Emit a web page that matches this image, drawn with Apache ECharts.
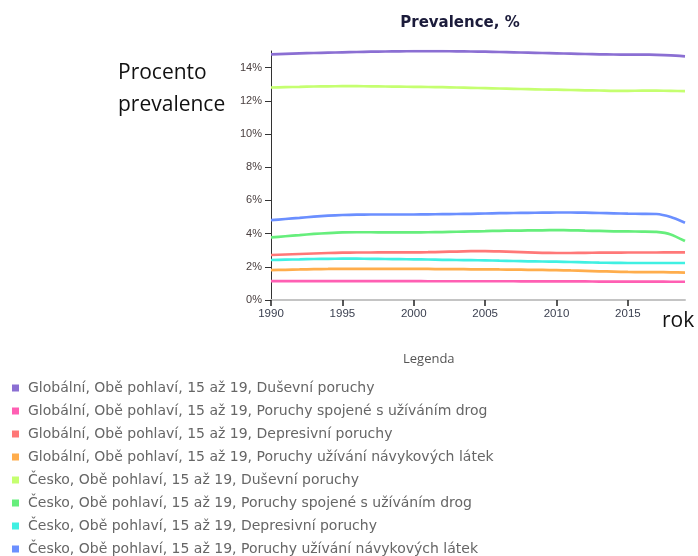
<!DOCTYPE html>
<html><head><meta charset="utf-8">
<script src="https://cdn.jsdelivr.net/npm/echarts@6/dist/echarts.min.js"></script>
<style>html,body{margin:0;padding:0;background:#fff}#c{width:698px;height:556px}</style>
</head><body><div id="c"></div>
<script>
const years = [1990,1991,1992,1993,1994,1995,1996,1997,1998,1999,2000,2001,2002,2003,2004,2005,2006,2007,2008,2009,2010,2011,2012,2013,2014,2015,2016,2017,2018,2019];
const seriesNames = [
  "Globální, Obě pohlaví, 15 až 19, Duševní poruchy",
  "Globální, Obě pohlaví, 15 až 19, Poruchy spojené s užíváním drog",
  "Globální, Obě pohlaví, 15 až 19, Depresivní poruchy",
  "Globální, Obě pohlaví, 15 až 19, Poruchy užívání návykových látek",
  "Česko, Obě pohlaví, 15 až 19, Duševní poruchy",
  "Česko, Obě pohlaví, 15 až 19, Poruchy spojené s užíváním drog",
  "Česko, Obě pohlaví, 15 až 19, Depresivní poruchy",
  "Česko, Obě pohlaví, 15 až 19, Poruchy užívání návykových látek"
];
const colors = ["#8b6fd3","#ff5fb3","#ff7878","#ffad4c","#c5ff70","#66ee7c","#40f0e2","#6b8fff"];
const globalMental = [14.80,14.83,14.86,14.88,14.90,14.92,14.94,14.96,14.97,14.98,14.99,14.99,14.99,14.98,14.97,14.96,14.94,14.92,14.90,14.88,14.86,14.84,14.82,14.80,14.79,14.78,14.78,14.77,14.74,14.68];
const globalDrug = [1.14,1.14,1.14,1.14,1.14,1.14,1.14,1.14,1.14,1.14,1.14,1.13,1.13,1.13,1.13,1.13,1.13,1.13,1.12,1.12,1.12,1.12,1.12,1.11,1.11,1.11,1.11,1.11,1.10,1.10];
const globalDepressive = [2.71,2.74,2.77,2.80,2.83,2.85,2.86,2.86,2.87,2.87,2.87,2.88,2.90,2.92,2.94,2.95,2.93,2.90,2.87,2.84,2.83,2.83,2.84,2.85,2.85,2.86,2.86,2.86,2.87,2.87];
const globalSubstance = [1.80,1.82,1.84,1.86,1.87,1.88,1.88,1.88,1.88,1.87,1.87,1.87,1.86,1.86,1.85,1.85,1.84,1.83,1.82,1.81,1.80,1.78,1.76,1.73,1.71,1.69,1.68,1.68,1.67,1.65];
const czMental = [12.80,12.82,12.84,12.86,12.87,12.88,12.88,12.87,12.86,12.85,12.84,12.83,12.82,12.80,12.78,12.76,12.74,12.72,12.70,12.68,12.67,12.65,12.63,12.62,12.60,12.60,12.61,12.61,12.60,12.58];
const czDrug = [3.77,3.84,3.91,3.98,4.03,4.07,4.08,4.08,4.07,4.07,4.07,4.08,4.09,4.11,4.13,4.15,4.17,4.18,4.19,4.20,4.21,4.20,4.18,4.16,4.14,4.13,4.12,4.10,3.95,3.55];
const czDepressive = [2.41,2.43,2.45,2.47,2.48,2.49,2.49,2.48,2.47,2.46,2.45,2.44,2.42,2.41,2.40,2.39,2.37,2.35,2.33,2.32,2.31,2.29,2.27,2.25,2.24,2.23,2.23,2.23,2.23,2.23];
const czSubstance = [4.81,4.88,4.95,5.02,5.08,5.12,5.14,5.15,5.15,5.15,5.15,5.16,5.17,5.18,5.19,5.21,5.23,5.24,5.25,5.26,5.27,5.27,5.26,5.24,5.22,5.20,5.19,5.18,5.00,4.66];
const allData = [globalMental, globalDrug, globalDepressive, globalSubstance, czMental, czDrug, czDepressive, czSubstance];
const xTicks = [1990,1995,2000,2005,2010,2015];
const yTicks = [0,2,4,6,8,10,12,14];

const chart = echarts.init(document.getElementById('c'), null, {renderer:'canvas'});
chart.setOption({
  animation:false,
  color: colors,
  title:{text:'Prevalence, %', left:455, top:11, textAlign:'center',
    textStyle:{fontFamily:'DejaVu Sans', fontSize:15, fontWeight:'bold', color:'#1b1b3a'}},
  grid:{left:271, right:13, top:51, bottom:256, containLabel:false},
  xAxis:{type:'value', min:1990, max:2019, interval:5,
    axisLine:{lineStyle:{color:'#c4c4c4', width:2}},
    axisTick:{show:true, length:6, lineStyle:{color:'#222', width:1.5}},
    axisLabel:{showMaxLabel:false, margin:8, fontFamily:'Liberation Sans', fontSize:11.5, color:'#3b4050',
      formatter: v => xTicks.includes(v) ? String(v) : ''},
    splitLine:{show:false}},
  yAxis:{type:'value', min:0, max:15, interval:2,
    axisLine:{show:true, lineStyle:{color:'#333', width:1}},
    axisTick:{show:true, length:6, lineStyle:{color:'#333'}},
    axisLabel:{showMaxLabel:false, margin:9, fontFamily:'Liberation Sans', fontSize:11, color:'#4a4040',
      formatter: v => yTicks.includes(v) ? v + '%' : ''},
    splitLine:{show:false}},
  legend:{orient:'vertical', left:7, top:375, height:190, itemWidth:7, itemHeight:7, icon:'rect', itemGap:7,
    data: seriesNames,
    textStyle:{fontFamily:'DejaVu Sans', fontSize:14, color:'#666', lineHeight:16, padding:[0,0,0,4]}},
  series: seriesNames.map((n,i)=>({
    name:n, type:'line', showSymbol:false, smooth:0.2,
    lineStyle:{width:2.7, color:colors[i]},
    data: years.map((y,j)=>[y, allData[i][j]])
  })),
  graphic:[
    {type:'text', left:118, top:63, style:{text:'Procento', fontFamily:'Open Sans', fontSize:21, fill:'#111'}},
    {type:'text', left:118, top:95, style:{text:'prevalence', fontFamily:'Open Sans', fontSize:21, fill:'#111'}},
    {type:'text', left:662, top:311, style:{text:'rok', fontFamily:'Open Sans', fontSize:21, fill:'#111'}},
    {type:'text', left:403, top:353, style:{text:'Legenda', fontFamily:'Open Sans', fontSize:13, fill:'#555'}}
  ]
});
</script></body></html>
